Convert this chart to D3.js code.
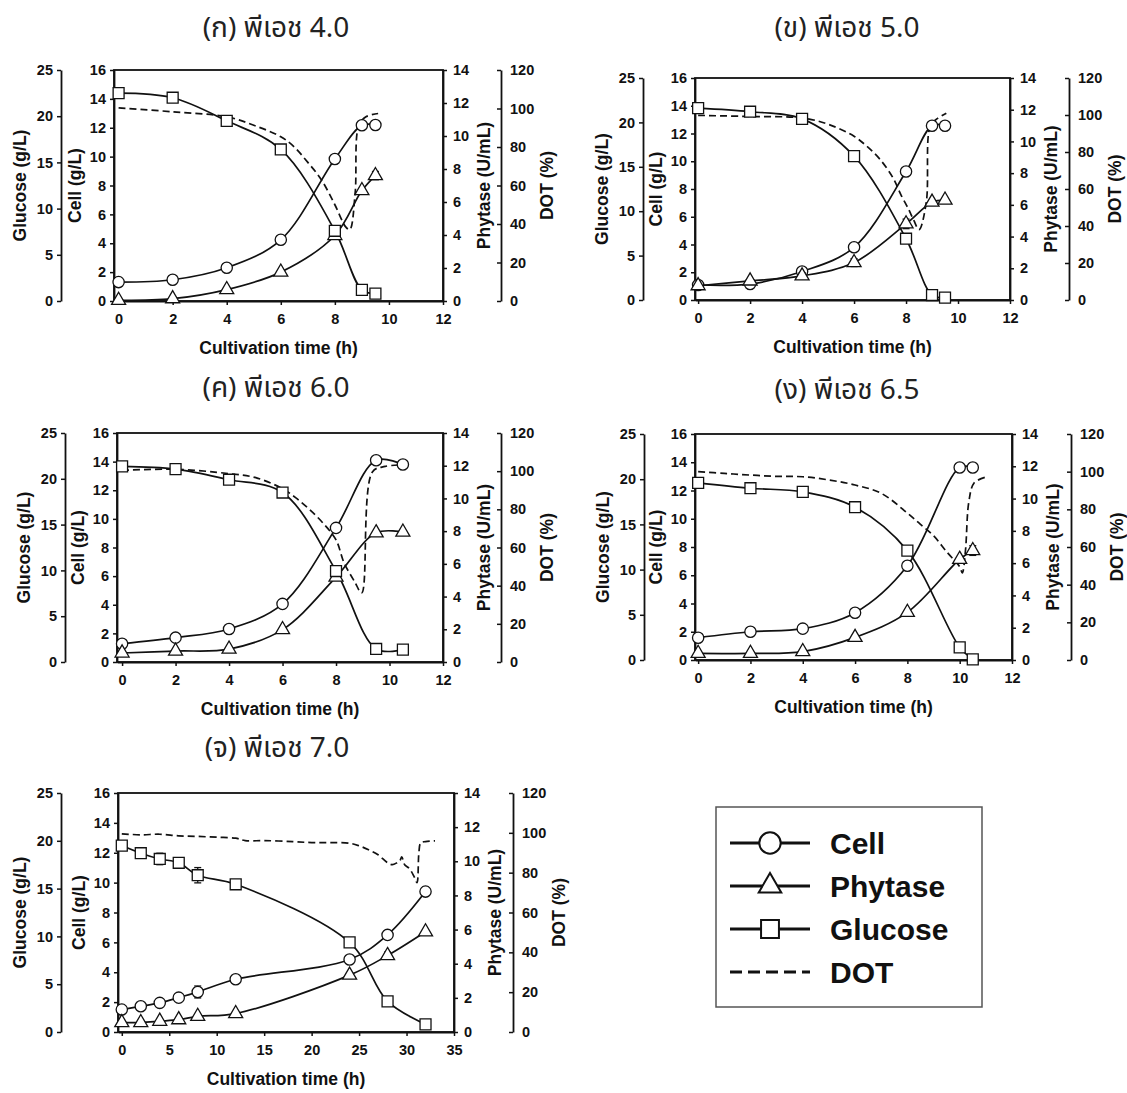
<!DOCTYPE html>
<html>
<head>
<meta charset="utf-8">
<script src="https://cdn.jsdelivr.net/npm/d3@7"></script>
<style>
body { margin: 0; background: #fff; }
svg text { font-family: "Liberation Sans", Arial, sans-serif; fill: #111; }
.ptitle { font-family: "Noto Sans Thai", "Noto Sans", "DejaVu Sans", sans-serif !important; font-size: 28px; fill: #222; }
.tick text { font-size: 14.5px; font-weight: bold; }
.atitle { font-size: 17.5px; font-weight: bold; }
.legtxt { font-size: 30px; font-weight: bold; }
</style>
</head>
<body>
<svg id="canvas"></svg>
<script>
// panel titles
const titles = ['(ก) พีเอช 4.0', '(ข) พีเอช 5.0', '(ค) พีเอช 6.0', '(ง) พีเอช 6.5', '(จ) พีเอช 7.0'];

// pH 4.0
const time40 = [0, 2, 4, 6, 8, 9, 9.5];
const cell40 = [1.31, 1.47, 2.30, 4.24, 9.84, 12.17, 12.19];
const cellErr40 = [0, 0, 0, 0, 0, 0, 0.3];
const phy40 = [0.04, 0.14, 0.69, 1.75, 3.97, 6.69, 7.6];
const phyErr40 = [0, 0, 0, 0, 0, 0, 0.25];
const glu40 = [22.5, 22.0, 19.5, 16.4, 7.6, 1.2, 0.8];
const gluErr40 = [0, 0.4, 0, 0, 0, 0, 0];
const dotT40 = [0, 2, 4, 5, 6, 6.5, 7, 7.5, 8, 8.4, 8.55, 8.75, 8.88, 9.15, 9.6];
const dot40 = [100.3, 98.3, 95.7, 91.3, 85.3, 80, 72, 63, 50, 38.5, 37, 56, 91, 95.7, 97.4];

// pH 5.0
const time50 = [0, 2, 4, 6, 8, 9, 9.5];
const cell50 = [1.08, 1.15, 2.05, 3.8, 9.26, 12.56, 12.56];
const cellErr50 = [0, 0, 0, 0, 0, 0, 0];
const phy50 = [0.9, 1.2, 1.52, 2.36, 4.8, 6.17, 6.3];
const phyErr50 = [0, 0.1, 0.2, 0.25, 0.3, 0, 0];
const glu50 = [21.6, 21.2, 20.4, 16.2, 6.9, 0.56, 0.26];
const gluErr50 = [0, 0.3, 0, 0, 0, 0, 0];
const dotT50 = [0, 2, 4, 5, 6, 6.5, 7, 7.5, 7.8, 8.1, 8.3, 8.5, 8.78, 8.93, 9.2, 9.55];
const dot50 = [99.8, 99.2, 98.4, 95, 88.5, 83, 76, 66, 57, 49, 43, 38, 53, 94, 98, 101];

// pH 6.0
const time60 = [0, 2, 4, 6, 8, 9.5, 10.5];
const cell60 = [1.28, 1.7, 2.31, 4.06, 9.37, 14.1, 13.8];
const cellErr60 = [0, 0, 0, 0, 0, 0, 0];
const phy60 = [0.55, 0.67, 0.79, 1.98, 5.19, 7.9, 7.94];
const phyErr60 = [0, 0, 0, 0, 0, 0, 0];
const glu60 = [21.35, 21.05, 19.9, 18.5, 9.93, 1.42, 1.35];
const gluErr60 = [0, 0, 0, 0, 0, 0, 0];
const dotT60 = [0, 2, 4, 5, 6, 6.5, 7, 7.5, 8, 8.3, 8.7, 8.96, 9.36, 9.84, 10.7];
const dot60 = [100.4, 101, 98.7, 96.6, 90.8, 86, 80, 73, 64, 52, 42, 36.2, 99.6, 102.5, 103.4];

// pH 6.5
const time65 = [0, 2, 4, 6, 8, 10, 10.5];
const cell65 = [1.58, 2.0, 2.22, 3.35, 6.67, 13.63, 13.63];
const cellErr65 = [0, 0, 0, 0, 0, 0, 0.3];
const phy65 = [0.41, 0.41, 0.52, 1.4, 2.95, 6.24, 6.78];
const phyErr65 = [0, 0, 0, 0.12, 0, 0, 0.3];
const glu65 = [19.6, 19.0, 18.6, 16.9, 12.1, 1.4, 0.07];
const gluErr65 = [0, 0, 0, 0, 0, 0, 0];
const dotT65 = [0, 1, 2, 3, 4, 5, 6, 7, 8, 8.5, 9, 9.5, 10, 10.1, 10.22, 10.35, 10.55, 10.97];
const dot65 = [100, 99.1, 98.2, 97.5, 97.3, 95.6, 92.9, 88.5, 78, 72, 66, 57.5, 49.5, 46.3, 58, 84, 94, 97];

// pH 7.0
const time70 = [0, 2, 4, 6, 8, 12, 24, 28, 32];
const cell70 = [1.5, 1.72, 1.95, 2.3, 2.68, 3.53, 4.85, 6.5, 9.4];
const cellErr70 = [0, 0, 0, 0.2, 0.4, 0, 0.25, 0, 0.3];
const phy70 = [0.55, 0.55, 0.63, 0.72, 0.92, 1.08, 3.33, 4.48, 5.87];
const phyErr70 = [0, 0, 0, 0, 0, 0, 0, 0.2, 0];
const glu70 = [19.5, 18.7, 18.1, 17.7, 16.4, 15.45, 9.37, 3.2, 0.8];
const gluErr70 = [0, 0.5, 0.6, 0, 0.8, 0, 0, 0, 0];
const dotT70 = [0, 2, 4, 6, 8, 10, 12, 13, 15, 18, 20, 22, 24, 25, 26, 27, 28, 28.5, 29, 29.3, 29.5, 29.8, 30.3, 30.8, 31.1, 31.3, 31.5, 32, 33];
const dot70 = [99.5, 99, 99.3, 98.5, 98.2, 97.8, 97.3, 96.1, 96.1, 95.6, 95.1, 95.1, 94.8, 93.5, 91.5, 89, 85, 84, 85, 86, 88, 84, 82, 78, 75, 90, 95, 95.6, 96];

// x axes
const xTicksShort = [0, 2, 4, 6, 8, 10, 12];
const xTicksLong = [0, 5, 10, 15, 20, 25, 30, 35];

// legend
const legendNames = ['Cell', 'Phytase', 'Glucose', 'DOT'];

const panels = [
	{ title: titles[0], t: time40, cell: cell40, cellErr: cellErr40, phy: phy40, phyErr: phyErr40, glu: glu40, gluErr: gluErr40, dotT: dotT40, dot: dot40, xMin: -0.17, xMax: 12, xTicks: xTicksShort },
	{ title: titles[1], t: time50, cell: cell50, cellErr: cellErr50, phy: phy50, phyErr: phyErr50, glu: glu50, gluErr: gluErr50, dotT: dotT50, dot: dot50, xMin: -0.12, xMax: 12, xTicks: xTicksShort },
	{ title: titles[2], t: time60, cell: cell60, cellErr: cellErr60, phy: phy60, phyErr: phyErr60, glu: glu60, gluErr: gluErr60, dotT: dotT60, dot: dot60, xMin: -0.19, xMax: 12, xTicks: xTicksShort },
	{ title: titles[3], t: time65, cell: cell65, cellErr: cellErr65, phy: phy65, phyErr: phyErr65, glu: glu65, gluErr: gluErr65, dotT: dotT65, dot: dot65, xMin: -0.12, xMax: 12, xTicks: xTicksShort },
	{ title: titles[4], t: time70, cell: cell70, cellErr: cellErr70, phy: phy70, phyErr: phyErr70, glu: glu70, gluErr: gluErr70, dotT: dotT70, dot: dot70, xMin: -0.4, xMax: 35, xTicks: xTicksLong }
];

// layout of each panel (glucose axis, box, DOT axis)
const frames = [
	{ gx: 61, bx0: 114, bx1: 443, dx: 501, yt: 70, yb: 301, tx: 276, ty: 28 },
	{ gx: 643, bx0: 695, bx1: 1010, dx: 1069, yt: 78, yb: 300, tx: 847, ty: 28 },
	{ gx: 65, bx0: 117, bx1: 443, dx: 501, yt: 433, yb: 662, tx: 276, ty: 388 },
	{ gx: 644, bx0: 695, bx1: 1012, dx: 1071, yt: 434, yb: 660, tx: 847, ty: 390 },
	{ gx: 61, bx0: 118, bx1: 454, dx: 513, yt: 793, yb: 1032, tx: 277, ty: 748 }
];

const svg = d3.select('#canvas').attr('width', 1127).attr('height', 1093);

function styleAxis(sel) {
	sel.select('.domain').attr('stroke', '#111').attr('stroke-width', 1.8);
	sel.selectAll('.tick line').attr('stroke', '#111').attr('stroke-width', 1.5);
}

function drawPanel(p, f) {
	const g = svg.append('g');
	const x = d3.scaleLinear().domain([p.xMin, p.xMax]).range([f.bx0, f.bx1]);
	const yCell = d3.scaleLinear().domain([0, 16]).range([f.yb, f.yt]);
	const yPhy = d3.scaleLinear().domain([0, 14]).range([f.yb, f.yt]);
	const yGlu = d3.scaleLinear().domain([0, 25]).range([f.yb, f.yt]);
	const yDot = d3.scaleLinear().domain([0, 120]).range([f.yb, f.yt]);
	const midY = (f.yt + f.yb) / 2;

	g.append('text').attr('class', 'ptitle').attr('x', f.tx).attr('y', f.ty)
		.attr('text-anchor', 'middle').attr('dominant-baseline', 'central').text(p.title);

	g.append('rect').attr('x', f.bx0).attr('y', f.yt)
		.attr('width', f.bx1 - f.bx0).attr('height', f.yb - f.yt)
		.attr('fill', 'none').attr('stroke', '#111').attr('stroke-width', 1.8);

	// axes
	g.append('g').attr('transform', 'translate(0,' + f.yb + ')')
		.call(d3.axisBottom(x).tickValues(p.xTicks).tickSizeInner(4).tickSizeOuter(0).tickPadding(9))
		.call(styleAxis);
	g.append('g').attr('transform', 'translate(' + f.bx0 + ',0)')
		.call(d3.axisLeft(yCell).tickValues(d3.range(0, 17, 2)).tickSizeInner(4).tickSizeOuter(0).tickPadding(4))
		.call(styleAxis);
	g.append('g').attr('transform', 'translate(' + f.bx1 + ',0)')
		.call(d3.axisRight(yPhy).tickValues(d3.range(0, 15, 2)).tickSizeInner(4).tickSizeOuter(0).tickPadding(6))
		.call(styleAxis);
	g.append('g').attr('transform', 'translate(' + f.gx + ',0)')
		.call(d3.axisLeft(yGlu).tickValues(d3.range(0, 26, 5)).tickSizeInner(4).tickSizeOuter(0).tickPadding(4))
		.call(styleAxis);
	g.append('g').attr('transform', 'translate(' + f.dx + ',0)')
		.call(d3.axisRight(yDot).tickValues(d3.range(0, 121, 20)).tickSizeInner(-4).tickSizeOuter(0).tickPadding(9))
		.call(styleAxis);

	// axis titles
	g.append('text').attr('class', 'atitle').attr('x', (f.bx0 + f.bx1) / 2).attr('y', f.yb + 47)
		.attr('text-anchor', 'middle').attr('dominant-baseline', 'central').text('Cultivation time (h)');
	const vt = [
		[f.gx - 41, 'Glucose (g/L)'],
		[f.bx0 - 39, 'Cell (g/L)'],
		[f.bx1 + 41, 'Phytase (U/mL)'],
		[f.dx + 46, 'DOT (%)']
	];
	vt.forEach((d) => {
		g.append('text').attr('class', 'atitle')
			.attr('transform', 'translate(' + d[0] + ',' + midY + ') rotate(-90)')
			.attr('text-anchor', 'middle').attr('dominant-baseline', 'central').text(d[1]);
	});

	// DOT dashed line
	const dotData = p.dotT.map((t, i) => [t, p.dot[i]]);
	g.append('path').datum(dotData)
		.attr('d', d3.line().x((d) => x(d[0])).y((d) => yDot(d[1])).curve(d3.curveCatmullRom.alpha(0.5)))
		.attr('fill', 'none').attr('stroke', '#111').attr('stroke-width', 1.7).attr('stroke-dasharray', '7,4');

	const series = [
		{ vals: p.cell, err: p.cellErr, y: yCell, shape: 'circle' },
		{ vals: p.phy, err: p.phyErr, y: yPhy, shape: 'triangle' },
		{ vals: p.glu, err: p.gluErr, y: yGlu, shape: 'square' }
	];

	series.forEach((s) => {
		const pts = p.t.map((t, i) => [t, s.vals[i], s.err[i]]);
		g.append('path').datum(pts)
			.attr('d', d3.line().x((d) => x(d[0])).y((d) => s.y(d[1])).curve(d3.curveCatmullRom.alpha(0.5)))
			.attr('fill', 'none').attr('stroke', '#111').attr('stroke-width', 1.7);
	});

	series.forEach((s) => {
		const pts = p.t.map((t, i) => [t, s.vals[i], s.err[i]]);
		const eb = g.append('g').attr('stroke', '#111').attr('stroke-width', 1.3);
		pts.filter((d) => d[2] > 0).forEach((d) => {
			const cx = x(d[0]);
			const y1 = s.y(d[1] + d[2]);
			const y2 = s.y(d[1] - d[2]);
			eb.append('line').attr('x1', cx).attr('x2', cx).attr('y1', y1).attr('y2', y2);
			eb.append('line').attr('x1', cx - 3.5).attr('x2', cx + 3.5).attr('y1', y1).attr('y2', y1);
			eb.append('line').attr('x1', cx - 3.5).attr('x2', cx + 3.5).attr('y1', y2).attr('y2', y2);
		});
		const sym = s.shape === 'circle' ? d3.symbol(d3.symbolCircle, 100)
			: s.shape === 'triangle' ? d3.symbol(d3.symbolTriangle, 85)
			: d3.symbol(d3.symbolSquare, 120);
		g.append('g').selectAll('path').data(pts).enter().append('path')
			.attr('transform', (d) => 'translate(' + x(d[0]) + ',' + s.y(d[1]) + ')')
			.attr('d', sym)
			.attr('fill', '#fff').attr('stroke', '#111').attr('stroke-width', 1.3);
	});
}

panels.forEach((p, i) => drawPanel(p, frames[i]));

// legend
const leg = svg.append('g');
leg.append('rect').attr('x', 716).attr('y', 807).attr('width', 266).attr('height', 200)
	.attr('fill', '#fff').attr('stroke', '#555').attr('stroke-width', 1.5);
const legY = d3.scalePoint().domain(legendNames).range([843, 972]);
const legSym = {
	Cell: d3.symbol(d3.symbolCircle, 360),
	Phytase: d3.symbol(d3.symbolTriangle, 220),
	Glucose: d3.symbol(d3.symbolSquare, 320)
};
legendNames.forEach((name) => {
	const yy = legY(name);
	const ln = leg.append('line').attr('x1', 730).attr('x2', 810).attr('y1', yy).attr('y2', yy)
		.attr('stroke', '#111').attr('stroke-width', 3.2);
	if (name === 'DOT') {
		ln.attr('stroke-dasharray', '12,6');
	} else {
		leg.append('path').attr('transform', 'translate(770,' + yy + ')').attr('d', legSym[name])
			.attr('fill', '#fff').attr('stroke', '#111').attr('stroke-width', 2);
	}
	leg.append('text').attr('class', 'legtxt').attr('x', 830).attr('y', yy)
		.attr('dominant-baseline', 'central').text(name);
});
</script>
</body>
</html>
